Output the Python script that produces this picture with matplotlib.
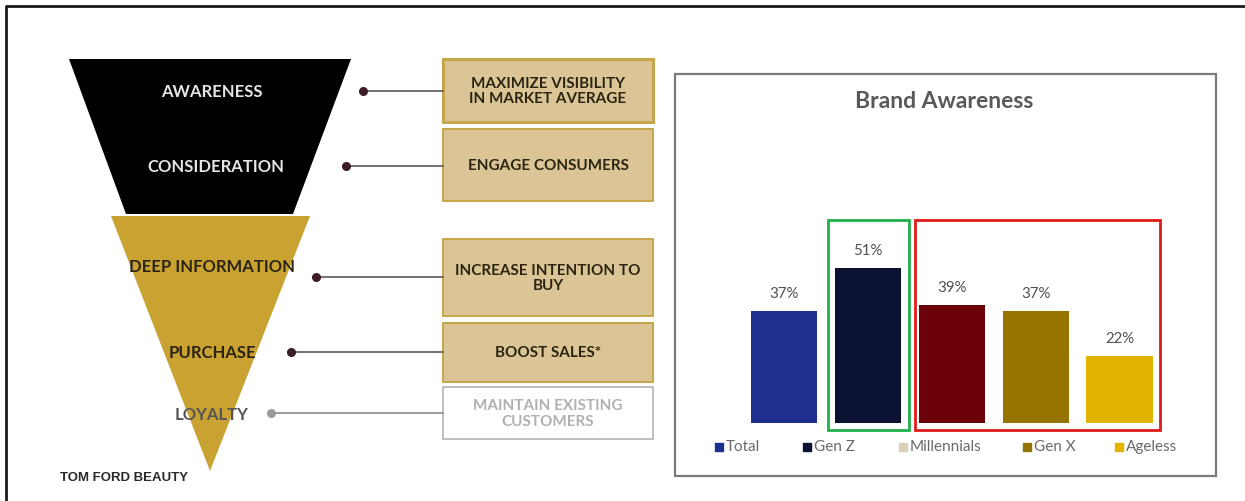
import matplotlib
matplotlib.use("Agg")

from matplotlib import pyplot as plt
from matplotlib.patches import Polygon, Rectangle

W, H = 1245, 502

# funnel stages and the actions attached to them
stages        = ["AWARENESS", "CONSIDERATION", "DEEP INFORMATION", "PURCHASE", "LOYALTY"]
actions       = ["MAXIMIZE VISIBILITY\nIN MARKET AVERAGE", "ENGAGE CONSUMERS",
                 "INCREASE INTENTION TO\nBUY", "BOOST SALES*", "MAINTAIN EXISTING\nCUSTOMERS"]

# brand awareness by generation
segments      = ["Total", "Gen Z", "Millennials", "Gen X", "Ageless"]
awareness_pct = [37, 51, 39, 37, 22]
bar_colors    = ["#1e2f8e", "#0c1232", "#6b0008", "#957400", "#e2b300"]
legend_colors = ["#1e2f8e", "#0c1232", "#d8d2b8", "#957400", "#e2b300"]

GOLD   = "#c9a232"
TAN    = "#dbc596"
BORDER = "#c6a64a"
FONT   = ["Lato", "DejaVu Sans"]

fig = plt.figure(figsize=(W / 100, H / 100), dpi=100)
fig.patch.set_facecolor("white")

# canvas in pixel units for the diagram part
cv = fig.add_axes([0, 0, 1, 1])
cv.set_xlim(0, W)
cv.set_ylim(H, 0)
cv.axis("off")

# outer frame (top and left only are visible)
cv.plot([6, 6, W + 5], [H + 5, 7, 7], color="#1a1a1a", lw=2, solid_capstyle="butt")

# funnel
cv.add_patch(Polygon([(69, 60), (351, 60), (293, 215), (126, 215)], closed=True,
                     facecolor="black", edgecolor="none"))
cv.add_patch(Polygon([(111, 217), (310, 217), (210, 472)], closed=True,
                     facecolor=GOLD, edgecolor="none"))

stage_pos   = [(212, 92), (216, 167), (212, 267), (212, 353), (212, 415)]
stage_color = ["#e6e6e6", "#e6e6e6", "#2b2414", "#2b2414", "#555555"]
for name, (x, y), c in zip(stages, stage_pos, stage_color):
    cv.text(x, y, name, ha="center", va="center", fontsize=12, color=c,
            family=FONT, fontweight="bold")

cv.text(60, 478, "TOM FORD BEAUTY", ha="left", va="center", fontsize=9.5,
        color="#2a2a2a", family=["Liberation Sans Narrow", "Liberation Sans"],
        fontweight="bold")

# connectors from funnel to action boxes
dots     = [(363, 92), (346, 167), (316, 278), (291, 353), (271, 414)]
dot_cols = ["#3d1e26", "#3d1e26", "#3d1e26", "#3d1e26", "#9a9a9a"]
line_col = ["#5a5a5a"] * 4 + ["#8a8a8a"]
for (x, y), c, lc in zip(dots, dot_cols, line_col):
    cv.plot([x, 443], [y, y], color=lc, lw=1.2)
    cv.plot(x, y, "o", color=c, ms=5.5)

# action boxes
boxes = [(60, 123), (130, 202), (240, 317), (324, 383), (388, 440)]
for i, (label, (y0, y1)) in enumerate(zip(actions, boxes)):
    last = i == len(actions) - 1
    cv.add_patch(Rectangle((443, y0), 210, y1 - y0,
                           facecolor="white" if last else TAN,
                           edgecolor="#b4b4b4" if last else BORDER,
                           lw=1.2 if last else (2.2 if i == 0 else 1.4)))
    cv.text(548, (y0 + y1) / 2, label, ha="center", va="center", fontsize=11,
            color="#b0b0b0" if last else "#2b2410", family=FONT,
            fontweight="bold", linespacing=1.18)

# chart panel
cv.add_patch(Rectangle((675, 75), 541, 402, facecolor="white",
                       edgecolor="#7a7a7a", lw=1.6))
cv.text(944, 102, "Brand Awareness", ha="center", va="center", fontsize=16.5,
        color="#595959", family=FONT, fontweight="bold")

# bar chart: baseline at y=424, about 3.03 px per percentage point
px_per_pct = 3.03
step = 83.9
ax = fig.add_axes([(784 - step / 2) / W, (H - 424) / H,
                   5 * step / W, 60 * px_per_pct / H])
ax.set_xlim(-0.5, 4.5)
ax.set_ylim(0, 60)
ax.axis("off")
ax.patch.set_alpha(0)

xs = range(len(segments))
ax.bar(xs, awareness_pct, width=0.79, color=bar_colors)
for x, v in zip(xs, awareness_pct):
    ax.text(x, v + 18 / px_per_pct, f"{v}%", ha="center", va="center",
            fontsize=10.8, color="#505050", family=FONT)

# highlight frames around Gen Z and the older groups
cv.add_patch(Rectangle((828, 221), 81, 210, facecolor="none",
                       edgecolor="#1fb04a", lw=2))
cv.add_patch(Rectangle((915, 221), 245, 210, facecolor="none",
                       edgecolor="#e01b1b", lw=2))

# legend
legend_x = [719, 807, 903, 1027, 1119]
for x, name, c in zip(legend_x, segments, legend_colors):
    cv.plot(x, 448, "s", color=c, ms=6)
    cv.text(x + 7, 447, name, ha="left", va="center", fontsize=11,
            color="#6a6a6a", family=FONT)

fig.savefig("out.png", dpi=100)
plt.close(fig)
